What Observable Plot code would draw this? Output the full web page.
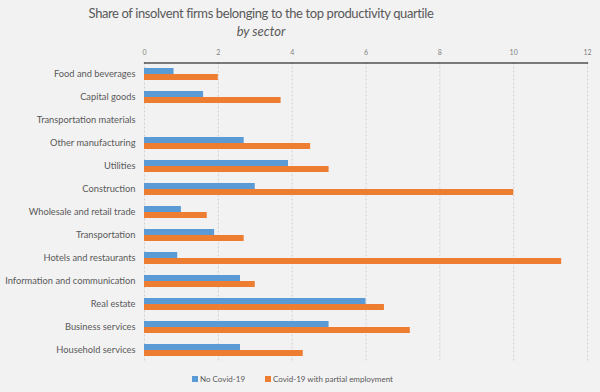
<!DOCTYPE html>
<html>
<head>
<meta charset="utf-8">
<script src="https://cdn.jsdelivr.net/npm/d3@7"></script>
<script src="https://cdn.jsdelivr.net/npm/@observablehq/plot@0.6"></script>
<style>
  html, body { margin: 0; padding: 0; background: #f2f2f2; }
  body { width: 600px; height: 392px; overflow: hidden; font-family: Lato, "Open Sans", sans-serif; color: #595959; }
  #title { position: relative; height: 40px; }
  #title .t { position: absolute; left: 0; width: 522px; text-align: center; top: 5px; font-size: 13px; letter-spacing: -0.4px; }
  #title .s { position: absolute; left: 0; width: 522px; text-align: center; top: 23px; font-size: 13px; font-style: italic; }
  #legend { position: relative; height: 22px; font-size: 8px; }
  #legend .item { position: absolute; top: 4px; display: flex; align-items: center; }
  #legend .sw { width: 6px; height: 6px; margin-right: 2px; }
</style>
</head>
<body>
<div id="title"><div class="t">Share of insolvent firms belonging to the top productivity quartile</div><div class="s">by sector</div></div>
<div id="chart"></div>
<div id="legend"></div>
<script>
const sectors = [
  "Food and beverages",
  "Capital goods",
  "Transportation materials",
  "Other manufacturing",
  "Utilities",
  "Construction",
  "Wholesale and retail trade",
  "Transportation",
  "Hotels and restaurants",
  "Information and communication",
  "Real estate",
  "Business services",
  "Household services"
];
const noCovid = [0.8, 1.6, null, 2.7, 3.9, 3.0, 1.0, 1.9, 0.9, 2.6, 6.0, 5.0, 2.6];
const covidPartial = [2.0, 3.7, null, 4.5, 5.0, 10.0, 1.7, 2.7, 11.3, 3.0, 6.5, 7.2, 4.3];
const seriesNames = ["No Covid-19", "Covid-19 with partial employment"];
const seriesColors = ["#5b9bd5", "#ed7d31"];
const xTicks = [0, 2, 4, 6, 8, 10, 12];

const rowsA = sectors.map((s, i) => ({sector: s, value: noCovid[i]})).filter(d => d.value != null);
const rowsB = sectors.map((s, i) => ({sector: s, value: covidPartial[i]})).filter(d => d.value != null);

const chart = Plot.plot({
  width: 600,
  height: 330,
  marginLeft: 144,
  marginRight: 13,
  marginTop: 22.5,
  marginBottom: 8.5,
  style: {background: "transparent", color: "#595959", fontFamily: "Lato, 'Open Sans', sans-serif"},
  x: {domain: [0, 12], axis: null, label: null},
  y: {domain: sectors, paddingInner: 0.48, paddingOuter: 0.24, axis: null, label: null},
  marks: [
    Plot.gridX(xTicks, {stroke: "#d0d0d0", strokeOpacity: 1, strokeDasharray: "2,2"}),
    Plot.axisX(xTicks, {anchor: "top", tickSize: 0, tickPadding: 8, fontSize: 7, fill: "#7f7f7f", label: null}),
    Plot.axisY({anchor: "left", tickSize: 0, tickPadding: 9, fontSize: 9.3, fill: "#595959", label: null}),
    Plot.barX(rowsA, {x: "value", y: "sector", fill: seriesColors[0], insetBottom: 6}),
    Plot.barX(rowsB, {x: "value", y: "sector", fill: seriesColors[1], insetTop: 6}),
    Plot.frame({anchor: "top", stroke: "#000", strokeWidth: 1.2})
  ]
});
document.getElementById("chart").appendChild(chart);

const legend = document.getElementById("legend");
const lefts = [192, 265];
seriesNames.forEach((n, i) => {
  const it = document.createElement("div");
  it.className = "item";
  it.style.left = lefts[i] + "px";
  it.innerHTML = `<span class="sw" style="background:${seriesColors[i]}"></span><span>${n}</span>`;
  legend.appendChild(it);
});
</script>
</body>
</html>
